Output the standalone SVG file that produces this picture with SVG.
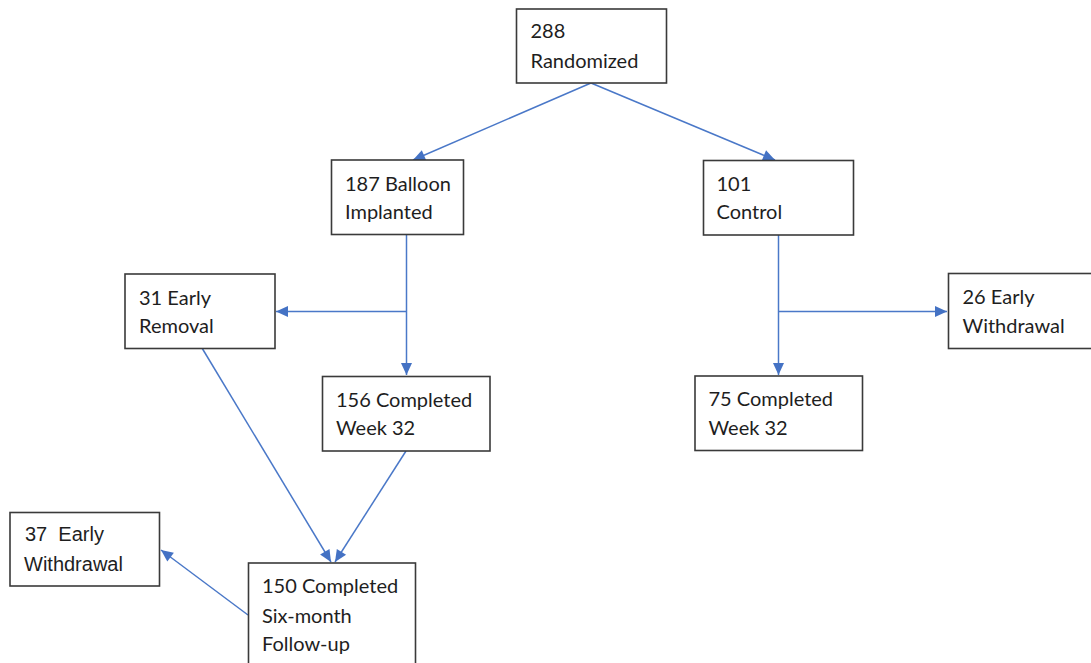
<svg xmlns="http://www.w3.org/2000/svg" width="1091" height="663" viewBox="0 0 1091 663">
<style>
.box{fill:#fff;stroke:#3a3a3a;stroke-width:1.6}
.t{font-family:Lato,"Open Sans","Liberation Sans",sans-serif;font-size:20px;fill:#1e1e1e}
.a{font-family:"Liberation Sans",Arial,sans-serif;font-size:20px;fill:#1e1e1e}
.c{fill:none;stroke:#4a78c8;stroke-width:1.5}
</style>
<defs>
<marker id="ah" markerUnits="userSpaceOnUse" markerWidth="14" markerHeight="14" viewBox="0 0 14 14" refX="13" refY="7" orient="auto">
<path d="M1,1.5 L13,7 L1,12.5 Z" fill="#4472c4"/>
</marker>
</defs>
<rect width="1091" height="663" fill="#fff"/>
<g id="connectors">
<line class="c" x1="591" y1="83" x2="413" y2="160" marker-end="url(#ah)"/>
<line class="c" x1="591" y1="83" x2="775" y2="160" marker-end="url(#ah)"/>
<line class="c" x1="406.5" y1="234" x2="406.5" y2="375" marker-end="url(#ah)"/>
<line class="c" x1="406.5" y1="311.5" x2="276" y2="311.5" marker-end="url(#ah)"/>
<line class="c" x1="778.5" y1="235" x2="778.5" y2="375" marker-end="url(#ah)"/>
<line class="c" x1="778.5" y1="311.5" x2="947" y2="311.5" marker-end="url(#ah)"/>
<line class="c" x1="202" y1="348" x2="331" y2="562" marker-end="url(#ah)"/>
<line class="c" x1="406" y1="451" x2="335" y2="562" marker-end="url(#ah)"/>
<line class="c" x1="248" y1="615" x2="161" y2="550" marker-end="url(#ah)"/>
</g>
<g id="n288">
<rect class="box" x="516.5" y="9" width="150" height="74"/>
<text class="t" x="530.5" y="38">288</text>
<text class="t" x="530.5" y="68">Randomized</text>
</g>
<g id="n187">
<rect class="box" x="331.5" y="160" width="132" height="74.5"/>
<text class="t" x="345" y="190.5">187 Balloon</text>
<text class="t" x="345" y="219">Implanted</text>
</g>
<g id="n101">
<rect class="box" x="703.5" y="160.5" width="150" height="74.5"/>
<text class="t" x="716.5" y="190.5">101</text>
<text class="t" x="716.5" y="219">Control</text>
</g>
<g id="n31">
<rect class="box" x="125" y="274" width="150" height="74.5"/>
<text class="t" x="139" y="304.5">31 Early</text>
<text class="t" x="139" y="333">Removal</text>
</g>
<g id="n156">
<rect class="box" x="322.5" y="376.5" width="167.5" height="74.5"/>
<text class="t" x="336" y="406.5">156 Completed</text>
<text class="t" x="336" y="435">Week 32</text>
</g>
<g id="n26">
<rect class="box" x="948.5" y="273.5" width="160" height="75"/>
<text class="t" x="962.5" y="304">26 Early</text>
<text class="t" x="962.5" y="333">Withdrawal</text>
</g>
<g id="n75">
<rect class="box" x="695" y="376" width="167.5" height="74.5"/>
<text class="t" x="708.5" y="406">75 Completed</text>
<text class="t" x="708.5" y="435">Week 32</text>
</g>
<g id="n37">
<rect class="box" x="10" y="512.5" width="149.5" height="73.5"/>
<text class="a" x="25" y="541" xml:space="preserve">37  Early</text>
<text class="a" x="24" y="570.5">Withdrawal</text>
</g>
<g id="n150">
<rect class="box" x="248.5" y="563" width="167" height="110"/>
<text class="t" x="262" y="592.5">150 Completed</text>
<text class="t" x="262" y="622.5">Six-month</text>
<text class="t" x="262" y="650.5">Follow-up</text>
</g>
</svg>
